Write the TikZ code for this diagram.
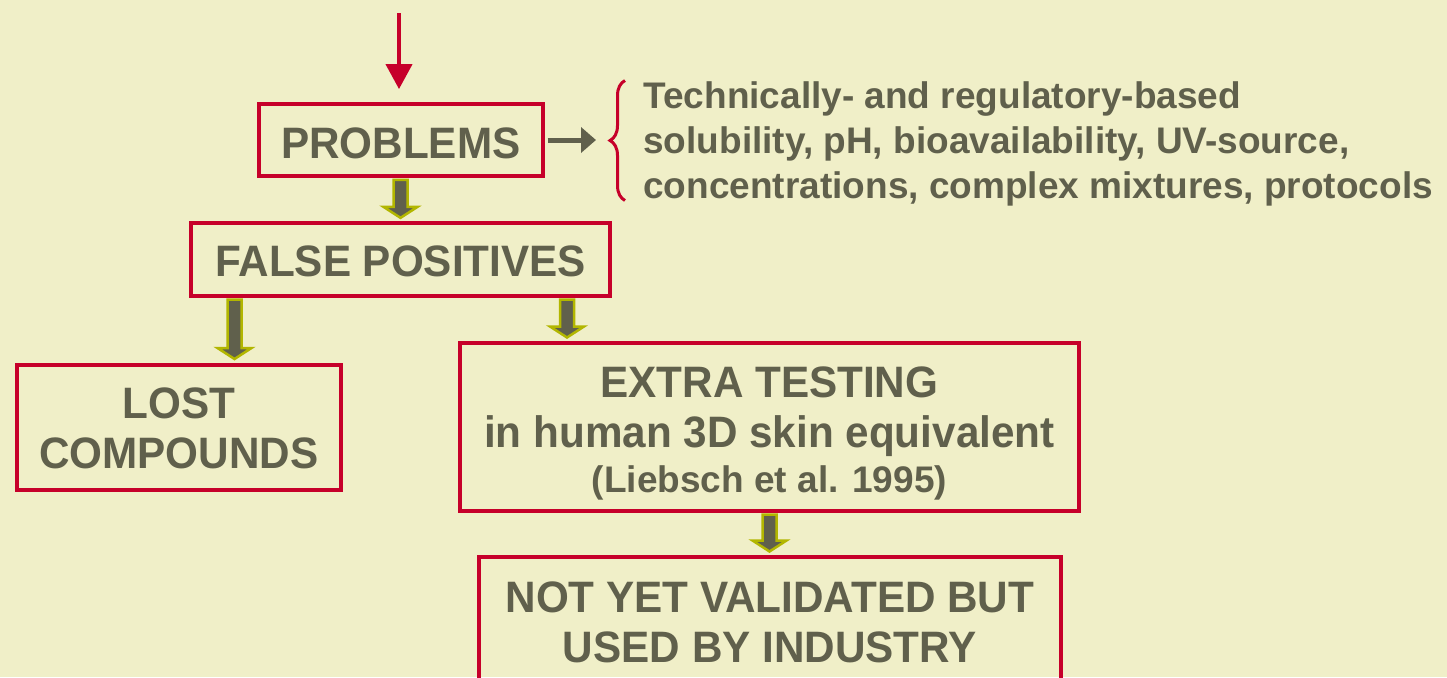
\documentclass[tikz,border=0pt]{standalone}
\usepackage{fontspec}
\setmainfont{Liberation Sans}
\newfontfamily\boxfont{Liberation Sans}[FakeStretch=0.96]
\newfontfamily\notefont{Liberation Sans}
\usetikzlibrary{arrows.meta,calc,decorations.pathreplacing}

\definecolor{paper}{RGB}{240,239,200}
\definecolor{ink}{RGB}{96,96,76}
\definecolor{frame}{RGB}{198,0,42}
\definecolor{rim}{RGB}{178,182,0}

\tikzset{
  box/.style={rectangle, draw=frame, line width=2pt, text=ink,
              font=\boxfont\bfseries\fontsize{22}{25}\selectfont,
              align=center, inner sep=0pt, text depth=0pt},
  note/.style={text=ink, font=\notefont\bfseries\fontsize{18.5}{22.5}\selectfont,
               align=left, inner sep=0pt},
  fat arrow/.style={fill=ink, draw=rim, line width=1.25pt, line join=miter},
  feed/.style={draw=frame, line width=2pt, -{Triangle[length=12.5pt,width=13pt]}},
  pointer/.style={draw=ink, line width=2.5pt, -{Triangle[length=7.5pt,width=12.5pt]}},
  curly/.style={draw=frame, line width=1.5pt, decorate,
                decoration={brace, amplitude=7.5pt}},
}

% hollow block arrow going down at x=#1 from node #2 to node #3
\newcommand\fatarrow[3]{%
  \path[fat arrow] let \p1=(#1,0), \p2=(#2.south), \p3=(#3.north) in
    (\x1-3.5pt,\y2-0.75pt) -- (\x1+3.5pt,\y2-0.75pt) -- (\x1+3.5pt,\y3+7.25pt)
    -- (\x1+8.5pt,\y3+7.25pt) -- (\x1,\y3+1.75pt) -- (\x1-8.5pt,\y3+7.25pt)
    -- (\x1-3.5pt,\y3+7.25pt) -- cycle;}

\begin{document}
\begin{tikzpicture}[x=0.5pt, y=-0.5pt]
  \fill[paper] (0,0) rectangle (1447,677);
  \useasboundingbox (0,0) rectangle (1447,677);

  % boxes (text height puts the last baseline in place)
  \node[box, minimum width=142pt, minimum height=36.3pt, text height=18.3pt]
    (problems) at (400.7,140) {PROBLEMS};
  \node[box, minimum width=209.5pt, minimum height=36.35pt, text height=16.3pt]
    (falsepos) at (400.5,259.7) {FALSE POSITIVES};
  \node[box, minimum width=162.2pt, minimum height=62.9pt, text height=40.6pt]
    (lost) at (178.8,427.4) {LOST\\COMPOUNDS};
  \node[box, minimum width=309.6pt, minimum height=84pt, text height=65pt]
    (extra) at (769.4,427) {EXTRA TESTING\\in human 3D skin equivalent\\[-2.5pt]
      {\notefont\fontsize{18.5}{22.5}\selectfont (Liebsch et al. 1995)}};
  \node[box, minimum width=290.8pt, minimum height=63pt, text height=42pt]
    (notyet) at (769.9,620) {NOT YET VALIDATED BUT\\USED BY INDUSTRY};

  % side remarks
  \node[note, anchor=base west] (notes) at (643,198)
    {Technically- and regulatory-based\\
     solubility, pH, bioavailability, UV-source,\\
     concentrations, complex mixtures, protocols};

  % connectors
  \coordinate (source) at (399,13);
  \draw[feed, shorten >=6.3pt] (source) -- (source |- problems.north);

  \coordinate (bracebot) at (625,200.5);
  \coordinate (bracetop) at (625,80.5);
  \coordinate (bracetip) at (610,140);
  \draw[curly] (bracebot) -- (bracetop);
  \draw[pointer, shorten <=1.5pt, shorten >=7pt] (problems.east) -- (bracetip);

  \fatarrow{400.5}{problems}{falsepos}
  \fatarrow{234.5}{falsepos}{lost}
  \fatarrow{567}{falsepos}{extra}
  \fatarrow{769.5}{extra}{notyet}
\end{tikzpicture}
\end{document}
